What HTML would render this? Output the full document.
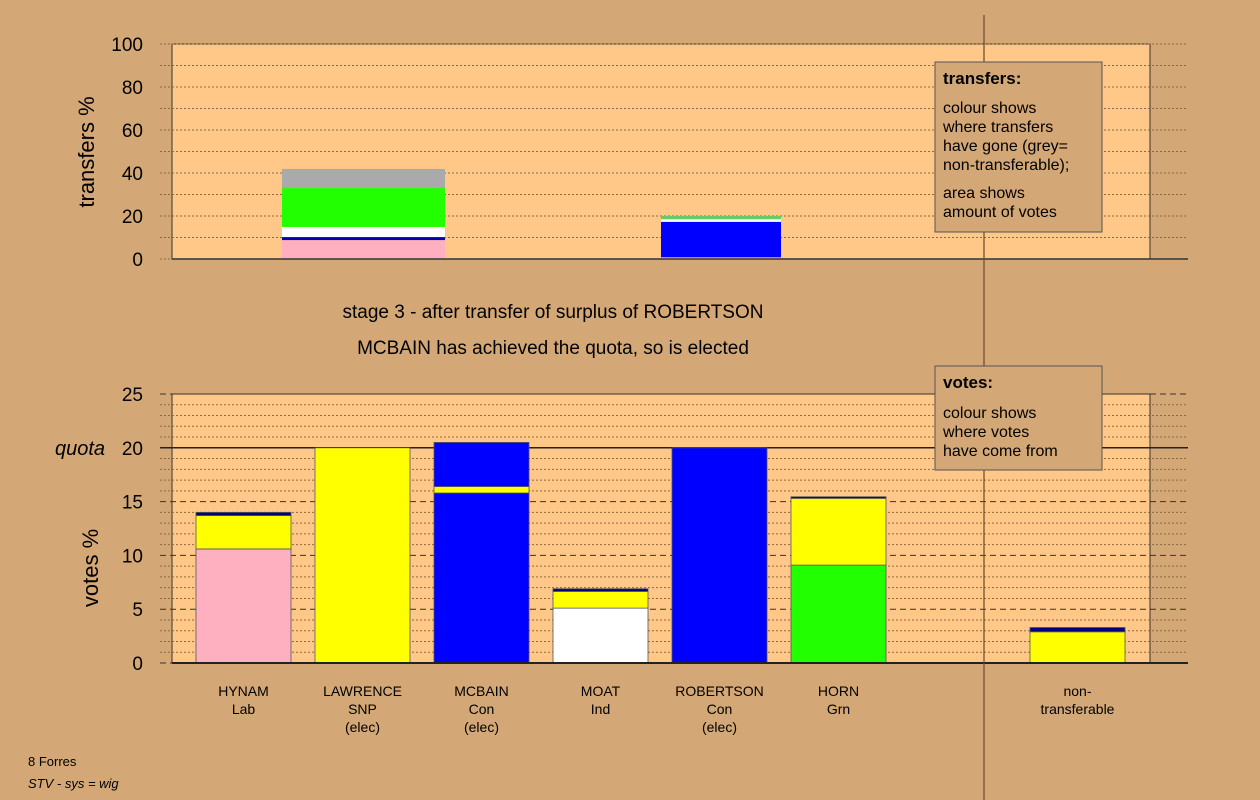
<!DOCTYPE html>
<html><head><meta charset="utf-8"><style>
body{margin:0;background:#d4a876;}
svg{display:block;font-family:"Liberation Sans",sans-serif;}
</style></head><body>
<svg id="c" width="1260" height="800"></svg>
<script>
const NS="http://www.w3.org/2000/svg";
const svg=document.getElementById('c');
// data
const topCategories=["HYNAM","ROBERTSON"];
const topSegments=[
 [[8.8,"#ffb0c0"],[1.4,"#0000b0"],[4.7,"#ffffff"],[18.1,"#22ff00"],[8.9,"#aaaaaa"]],
 [[0.8,"#ffb0c0"],[16.5,"#0000ff"],[1.2,"#ffffff"],[1.5,"#66cc66"]]
];
const topTicks=[0,20,40,60,80,100];
const categories=["HYNAM","LAWRENCE","MCBAIN","MOAT","ROBERTSON","HORN","non-transferable"];
const catLabels=[["HYNAM","Lab"],["LAWRENCE","SNP","(elec)"],["MCBAIN","Con","(elec)"],["MOAT","Ind"],["ROBERTSON","Con","(elec)"],["HORN","Grn"],["non-","transferable"]];
const voteSegments=[
 [[10.6,"#ffb0c0"],[3.1,"#ffff00"],[0.3,"#000080"]],
 [[20,"#ffff00"]],
 [[15.8,"#0000ff"],[0.6,"#ffff00"],[4.1,"#0000ff"]],
 [[5.1,"#ffffff"],[1.55,"#ffff00"],[0.25,"#000080"]],
 [[20,"#0000ff"]],
 [[9.1,"#22ff00"],[6.2,"#ffff00"],[0.15,"#000080"]],
 [[2.9,"#ffff00"],[0.4,"#000080"]]
];
const voteTicks=[0,5,10,15,20,25];
const quota=20;
function el(t,a,p){const e=document.createElementNS(NS,t);for(const k in a)e.setAttribute(k,a[k]);(p||svg).appendChild(e);return e;}
function txt(x,y,s,a){const e=el('text',Object.assign({x:x,y:y},a));e.textContent=s;return e;}
// scales
const topY=v=>259-v*2.15;
const botY=v=>663-v*10.76;
const topX=i=>[282,661][i];
const botX=i=>i<6?196+i*119:1030;
// top plot
let r=el('rect',{x:172,y:44,width:978,height:215,fill:"#ffc888",stroke:"#333","stroke-width":1});

for(let v=0;v<=100;v+=10){let l=el('line',{x1:160,x2:1188,y1:topY(v),y2:topY(v),stroke:"#8a6a40","stroke-dasharray":"2,2"});}
topTicks.forEach(v=>{let t=txt(143,topY(v)+7,String(v),{"font-size":19,"text-anchor":"end",fill:"#000"});});
let yt=txt(0,0,"transfers %",{"font-size":22,"text-anchor":"middle",transform:"translate(94,152) rotate(-90)"});

topSegments.forEach((segs,i)=>{let base=0;const w=i==0?163:120;segs.forEach(s=>{let b=el('rect',{x:topX(i),y:topY(base+s[0]),width:w,height:s[0]*2.15,fill:s[1]});base+=s[0];});});
el('line',{x1:172,x2:1188,y1:259,y2:259,stroke:"#333","stroke-width":1.5});
// titles
let t1=txt(553,318,"stage 3 - after transfer of surplus of ROBERTSON",{"font-size":19,"text-anchor":"middle"});
let t2=txt(553,354,"MCBAIN has achieved the quota, so is elected",{"font-size":19,"text-anchor":"middle"});
// bottom plot
r=el('rect',{x:172,y:394,width:978,height:269,fill:"#ffc888",stroke:"#333","stroke-width":1});

for(let v=0;v<=25;v++){let d=v%5==0?"6,4":"2,2";let c=v%5==0?"#333":"#8a6a40";let l=el('line',{x1:160,x2:1188,y1:botY(v),y2:botY(v),stroke:c,"stroke-dasharray":d});}
voteTicks.forEach(v=>{let t=txt(143,botY(v)+7,String(v),{"font-size":19,"text-anchor":"end"});});
let q=el('line',{x1:160,x2:1188,y1:botY(quota),y2:botY(quota),stroke:"#222","stroke-width":1.5});
let ql=txt(55,botY(quota)+7,"quota",{"font-size":20,"font-style":"italic"});
yt=txt(0,0,"votes %",{"font-size":22,"text-anchor":"middle",transform:"translate(98,568) rotate(-90)"});

voteSegments.forEach((segs,i)=>{let base=0;segs.forEach(s=>{let b=el('rect',{x:botX(i),y:botY(base+s[0]),width:95,height:s[0]*10.76,fill:s[1],stroke:"#555","stroke-width":0.8});base+=s[0];});
 catLabels[i].forEach((s,k)=>{let t=txt(botX(i)+47.5,696+k*18,s,{"font-size":14,"text-anchor":"middle"});});});
el('line',{x1:172,x2:1188,y1:663,y2:663,stroke:"#222","stroke-width":2});
// divider
let dv=el('line',{x1:984,x2:984,y1:15,y2:800,stroke:"#6a4a2a","stroke-width":1.2});
// legend boxes
function box(x,y,w,h,title,lines,name){const g=el('g',{});
 el('rect',{x:x,y:y,width:w,height:h,fill:"#d4a876",stroke:"#555"},g);
 let t=txt(x+8,y+22,title,{"font-size":17,"font-weight":"bold"});g.appendChild(t);
 lines.forEach(l=>{let e=txt(x+8,l[1],l[0],{"font-size":16});g.appendChild(e);});}
box(935,62,167,170,"transfers:",[["colour shows",113],["where transfers",132],["have gone (grey=",151],["non-transferable);",170],["area shows",198],["amount of votes",217]],'transfers-legend');
box(935,366,167,104,"votes:",[["colour shows",418],["where votes",437],["have come from",456]],'votes-legend');
let f1=txt(28,766,"8 Forres",{"font-size":13});
let f2=txt(28,788,"STV - sys = wig",{"font-size":13,"font-style":"italic"});
</script>
</body></html>
